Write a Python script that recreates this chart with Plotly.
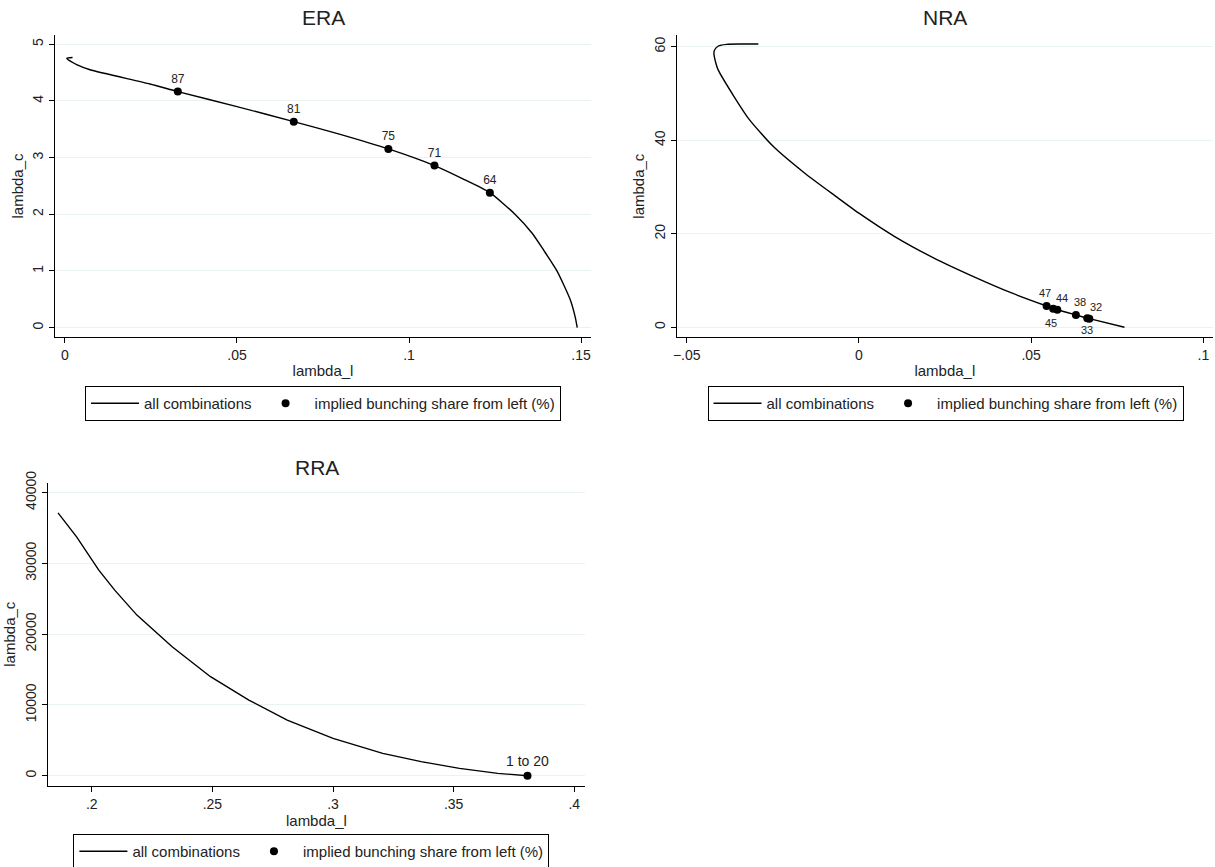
import plotly.graph_objects as go

W, H = 1215, 867

# ---------------- data ----------------
era_line_x = [0.0022, 0.0005, 0.0034, 0.0073, 0.0247, 0.0328, 0.0500, 0.0665, 0.0800, 0.0940,
              0.1074, 0.1155, 0.1235, 0.1308, 0.1358, 0.1391, 0.1430, 0.1469, 0.1483, 0.1489]
era_line_y = [4.768, 4.752, 4.640, 4.550, 4.300, 4.165, 3.900, 3.635, 3.410, 3.153,
              2.859, 2.630, 2.382, 2.000, 1.665, 1.370, 1.000, 0.488, 0.190, 0.000]
era_pt_x = [0.0328, 0.0665, 0.0940, 0.1074, 0.1235]
era_pt_y = [4.165, 3.635, 3.153, 2.859, 2.382]
era_pt_lbl = ["87", "81", "75", "71", "64"]

nra_line_x = [-0.0292, -0.0345, -0.0384, -0.0408, -0.0419, -0.0421, -0.0415, -0.0409, -0.0363,
              -0.0318, -0.0249, -0.0158, -0.0067, 0.0000, 0.0104, 0.0218, 0.0331,
              0.0445, 0.0545, 0.0576, 0.0630, 0.0669, 0.0771]
nra_line_y = [60.57, 60.57, 60.50, 60.15, 59.30, 58.60, 56.40, 55.10, 49.40,
              44.40, 38.70, 33.00, 28.00, 24.40, 19.40, 14.80, 10.90,
              7.29, 4.55, 3.76, 2.63, 1.84, 0.00]
nra_pt_x = [0.0545, 0.0564, 0.0576, 0.0630, 0.0663, 0.0669]
nra_pt_y = [4.55, 3.98, 3.76, 2.63, 1.92, 1.84]
nra_pt_lbl = ["47", "45", "44", "38", "33", "32"]

rra_line_x = [0.1860, 0.1937, 0.2029, 0.2095, 0.2187, 0.2333, 0.2492, 0.2651, 0.2810, 0.3000,
              0.3206, 0.3365, 0.3524, 0.3683, 0.3806]
rra_line_y = [37130, 33740, 29040, 26210, 22680, 18210, 13980, 10680, 7860, 5270,
              3150, 1980, 1035, 330, 0]
rra_pt_x = [0.3806]
rra_pt_y = [0]
rra_pt_lbl = ["1 to 20"]

era_xticks = [0, 0.05, 0.1, 0.15]
era_xtext = ["0", ".05", ".1", ".15"]
era_yticks = [0, 1, 2, 3, 4, 5]
nra_xticks = [-0.05, 0, 0.05, 0.1]
nra_xtext = ["\u2212.05", "0", ".05", ".1"]
nra_yticks = [0, 20, 40, 60]
rra_xticks = [0.2, 0.25, 0.3, 0.35, 0.4]
rra_xtext = [".2", ".25", ".3", ".35", ".4"]
rra_yticks = [0, 10000, 20000, 30000, 40000]

LINE_NAME = "all combinations"
PT_NAME = "implied bunching share from left (%)"
FONT = "Liberation Sans, Arial, Helvetica, sans-serif"

# pixel offsets of the crowded NRA marker labels (style only)
nra_lbl_shift = [(-2, 13), (-2, -14), (5, 12), (4, 13), (0, -12), (7, 12)]

# ---------------- figure ----------------
fig = go.Figure()

def add_panel(idx, lx, ly, px_, py_, lbl, lblsize, legname, smooth):
    sfx = "" if idx == 1 else str(idx)
    fig.add_trace(go.Scatter(x=lx, y=ly, mode="lines", name=LINE_NAME,
                             line=dict(color="black", width=1.4,
                                       shape="spline" if smooth else "linear",
                                       smoothing=0.6),
                             xaxis="x" + sfx, yaxis="y" + sfx, legend=legname,
                             hoverinfo="skip"))
    fig.add_trace(go.Scatter(x=px_, y=py_, mode="markers+text" if lbl else "markers",
                             name=PT_NAME,
                             marker=dict(color="black", size=8),
                             text=lbl, textposition="top center",
                             textfont=dict(size=lblsize, color="#222", family=FONT),
                             xaxis="x" + sfx, yaxis="y" + sfx, legend=legname))

add_panel(1, era_line_x, era_line_y, era_pt_x, era_pt_y, era_pt_lbl, 12, "legend", True)
add_panel(2, nra_line_x, nra_line_y, nra_pt_x, nra_pt_y, None, 11, "legend2", True)
add_panel(3, rra_line_x, rra_line_y, rra_pt_x, rra_pt_y, rra_pt_lbl, 14, "legend3", False)

for xv, yv, t, (dx, dy) in zip(nra_pt_x, nra_pt_y, nra_pt_lbl, nra_lbl_shift):
    fig.add_annotation(x=xv, y=yv, xref="x2", yref="y2", text=t, showarrow=False,
                       xshift=dx, yshift=dy, xanchor="center", yanchor="middle",
                       font=dict(size=11, color="#222", family=FONT))

def dom_x(a, b):
    return [a / W, b / W]

def dom_y(top, bottom):
    return [1 - bottom / H, 1 - top / H]

tickfont = dict(size=14, color="#222", family=FONT)
titlefont = dict(size=15, color="#222", family=FONT)

def xaxis(domain, rng, tv, tt, anchor):
    return dict(domain=domain, range=rng, anchor=anchor, tickmode="array",
                tickvals=tv, ticktext=tt, ticks="outside", ticklen=5, tickcolor="black",
                showline=True, linecolor="black", linewidth=1.2, mirror=False,
                showgrid=False, zeroline=False, tickfont=tickfont, automargin=False,
                title=dict(text="lambda_l", font=titlefont, standoff=3))

def yaxis(domain, rng, tv, anchor):
    return dict(domain=domain, range=rng, anchor=anchor, tickmode="array",
                tickvals=tv, ticktext=[str(v) for v in tv], ticks="outside", ticklen=5,
                tickcolor="black", tickangle=-90, automargin=False,
                showline=True, linecolor="black", linewidth=1.2, mirror=False,
                showgrid=True, gridcolor="#EAF2F3", gridwidth=1, zeroline=False,
                tickfont=tickfont,
                title=dict(text="lambda_c", font=titlefont, standoff=3))

leg_common = dict(orientation="h", xanchor="center", yanchor="top",
                  bordercolor="black", borderwidth=1, bgcolor="white",
                  font=dict(size=15, color="#222", family=FONT),
                  itemwidth=48, tracegroupgap=0)

fig.update_layout(
    width=W, height=H,
    margin=dict(l=0, r=0, t=0, b=0, autoexpand=False),
    paper_bgcolor="white", plot_bgcolor="white",
    font=dict(family=FONT, color="#222"),
    xaxis=xaxis(dom_x(55, 591), [-0.0029, 0.1529], era_xticks, era_xtext, "y"),
    yaxis=yaxis(dom_y(35, 337), [-0.166, 5.164], era_yticks, "x"),
    xaxis2=xaxis(dom_x(676.7, 1213), [-0.0529, 0.1028], nra_xticks, nra_xtext, "y2"),
    yaxis2=yaxis(dom_y(35, 337.3), [-2.14, 62.5], nra_yticks, "x2"),
    xaxis3=xaxis(dom_x(47.9, 584.9), [0.1818, 0.4044], rra_xticks, rra_xtext, "y3"),
    yaxis3=yaxis(dom_y(482.7, 785.7), [-1412, 41384], rra_yticks, "x3"),
    legend=dict(x=323 / W, y=1 - 386 / H, **leg_common),
    legend2=dict(x=945.5 / W, y=1 - 386 / H, **leg_common),
    legend3=dict(x=311.4 / W, y=1 - 834 / H, **leg_common),
    showlegend=True,
)

titles = [("ERA", 323, 18), ("NRA", 945, 18), ("RRA", 316.5, 467)]
for txt, cx, cy in titles:
    fig.add_annotation(text=txt, xref="paper", yref="paper", x=cx / W, y=1 - cy / H,
                       xanchor="center", yanchor="middle", showarrow=False,
                       font=dict(size=21, color="#222", family=FONT))

fig.write_html("out.html", config={"displayModeBar": False},
               post_script="document.body.style.margin='0';document.body.style.overflow='hidden';")
